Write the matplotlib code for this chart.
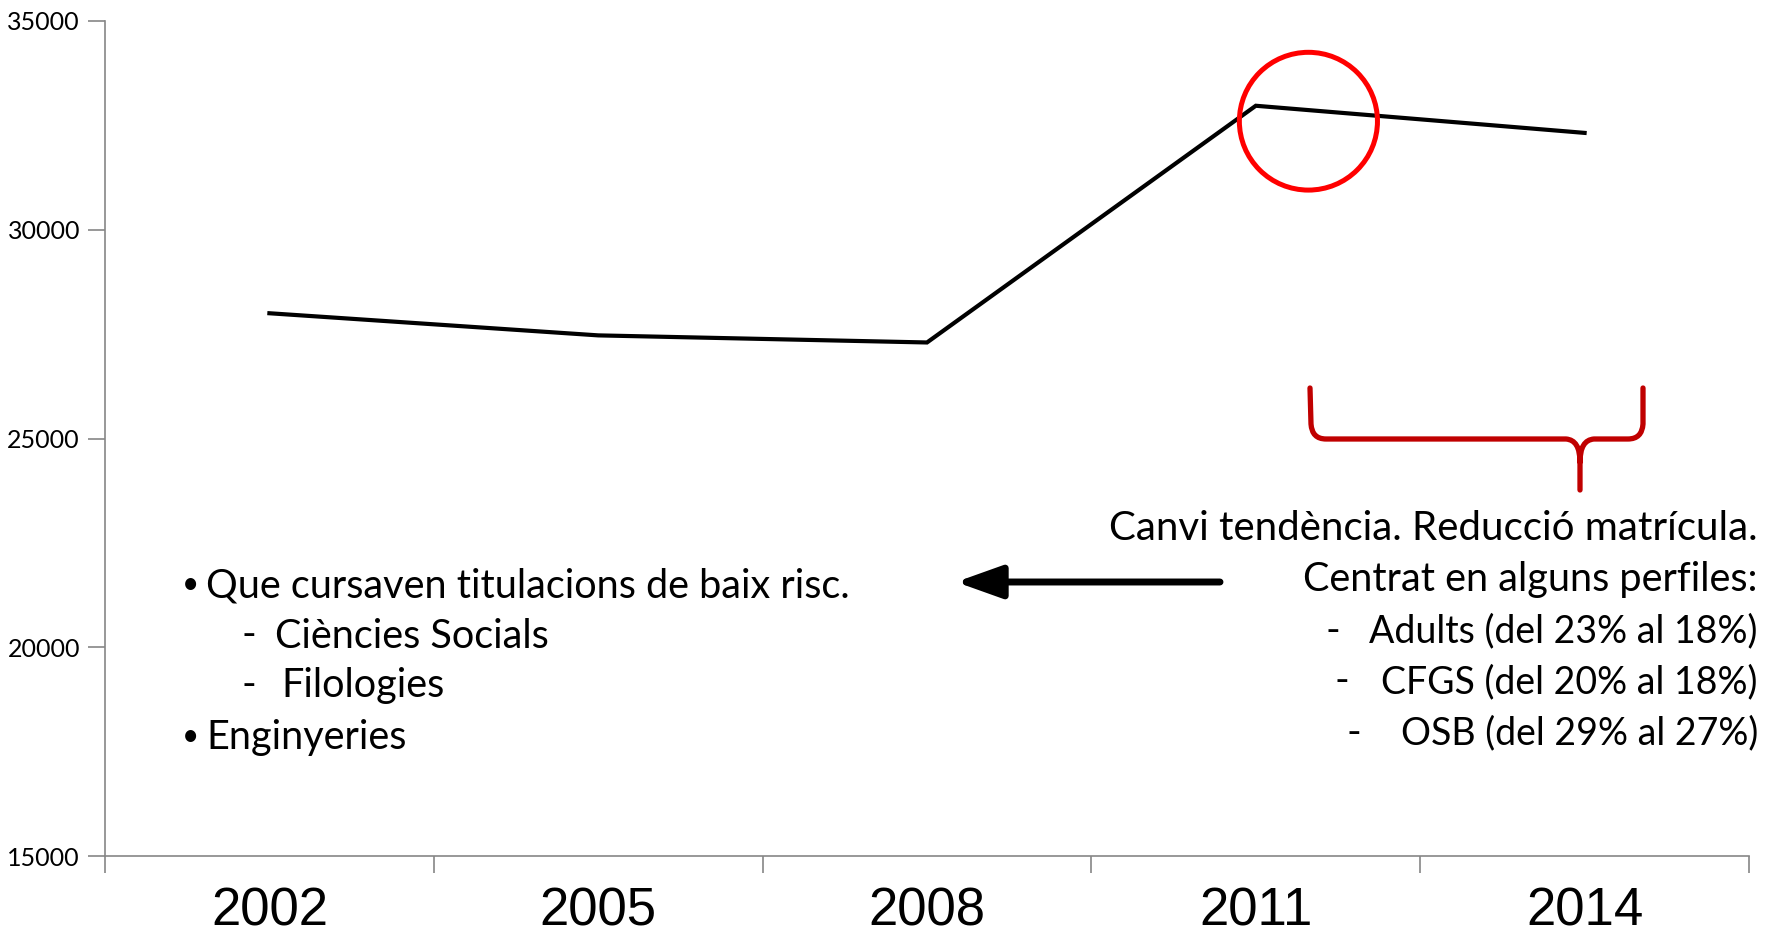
import matplotlib

matplotlib.use("Agg")
import matplotlib.pyplot as plt
from matplotlib.patches import Ellipse, PathPatch
from matplotlib.path import Path

years = ["2002", "2005", "2008", "2011", "2014"]
enrolment = [28000, 27470, 27300, 32970, 32320]
y_ticks = [15000, 20000, 25000, 30000, 35000]

left_lines = ["Que cursaven titulacions de baix risc.", "Ciències Socials", "Filologies", "Enginyeries"]
right_lines = ["Canvi tendència. Reducció matrícula.", "Centrat en alguns perfiles:",
               "Adults (del 23% al 18%)", "CFGS (del 20% al 18%)", "OSB (del 29% al 27%)"]

W, H = 1774, 943
TEXT_FONT = ["Lato", "DejaVu Sans"]
YEAR_FONT = ["Liberation Sans Narrow", "Liberation Sans"]
AXIS_GREY = "#868686"


def fx(px):
    return px / W


def fy(py):
    return 1 - py / H


fig = plt.figure(figsize=(W / 100, H / 100), dpi=100)
ax = fig.add_axes([fx(105), fy(856), fx(1749) - fx(105), fy(21) - fy(856)])

x = list(range(len(years)))
ax.plot(x, enrolment, color="black", linewidth=3.0, solid_joinstyle="miter", zorder=3)

ax.set_xlim(-0.5, len(years) - 0.5)
ax.set_ylim(15000, 35000)
ax.set_yticks(y_ticks)
ax.set_yticklabels([str(v) for v in y_ticks], fontsize=18, family=TEXT_FONT)
ax.set_xticks([i - 0.5 for i in range(len(years) + 1)])
ax.set_xticklabels([])
ax.set_xticks(x, minor=True)
ax.set_xticklabels(years, minor=True, fontsize=38, family=YEAR_FONT)
ax.tick_params(axis="x", which="minor", length=0, pad=22)
ax.tick_params(axis="x", which="major", direction="out", length=12, color=AXIS_GREY, width=1.2)
ax.tick_params(axis="y", direction="out", length=12, color=AXIS_GREY, width=1.2, pad=6)
for spine in ["top", "right"]:
    ax.spines[spine].set_visible(False)
for spine in ["left", "bottom"]:
    ax.spines[spine].set_color(AXIS_GREY)
    ax.spines[spine].set_linewidth(1.2)

# red circle around the 2011 peak
ax.add_patch(Ellipse((3.16, 32600), width=0.42, height=3300, fill=False,
                     edgecolor="#FF0000", linewidth=3.6, zorder=4))

# brace under the 2011-2014 stretch
brace_verts = [
    (1310, 388), (1311, 424), (1312, 439), (1326, 439),
    (1566, 439), (1580, 440), (1580, 462),
    (1580, 490),
    (1580, 462), (1580, 440), (1594, 439),
    (1628, 439), (1642, 439), (1643, 424), (1643, 388),
]
brace_codes = [
    Path.MOVETO, Path.LINETO, Path.CURVE3, Path.CURVE3,
    Path.LINETO, Path.CURVE3, Path.CURVE3,
    Path.LINETO,
    Path.MOVETO, Path.CURVE3, Path.CURVE3,
    Path.LINETO, Path.CURVE3, Path.CURVE3, Path.LINETO,
]
brace = Path([(fx(a), fy(b)) for a, b in brace_verts], brace_codes)
fig.add_artist(PathPatch(brace, transform=fig.transFigure, fill=False,
                         edgecolor="#C00000", linewidth=3.8, capstyle="round", joinstyle="round"))

# arrow pointing left
fig.add_artist(plt.Annotation("", xy=(fx(956), fy(582)), xytext=(fx(1220), fy(582)),
                              xycoords="figure fraction", textcoords="figure fraction",
                              arrowprops=dict(arrowstyle="-|>,head_length=1.4,head_width=0.5",
                                              color="black", linewidth=5.0, mutation_scale=20,
                                              shrinkA=0, shrinkB=0)))

# left text block
fs = 28.5
fig.text(fx(182), fy(584), "•", fontsize=fs * 0.75, family=TEXT_FONT, va="center", ha="left")
fig.text(fx(206), fy(586), left_lines[0], fontsize=fs, family=TEXT_FONT, va="center", ha="left")
fig.text(fx(241), fy(636), "-", fontsize=fs, family=TEXT_FONT, va="center", ha="left")
fig.text(fx(275), fy(636), left_lines[1], fontsize=fs, family=TEXT_FONT, va="center", ha="left")
fig.text(fx(241), fy(686), "-", fontsize=fs, family=TEXT_FONT, va="center", ha="left")
fig.text(fx(281), fy(686), left_lines[2], fontsize=fs, family=TEXT_FONT, va="center", ha="left")
fig.text(fx(182), fy(736), "•", fontsize=fs * 0.75, family=TEXT_FONT, va="center", ha="left")
fig.text(fx(206), fy(738), left_lines[3], fontsize=fs, family=TEXT_FONT, va="center", ha="left")

# right text block
right_y = [528, 580, 631, 682, 733]
right_fs = [29, 28.5, 27, 27, 27]
for line, yy, size in zip(right_lines, right_y, right_fs):
    fig.text(fx(1758), fy(yy), line, fontsize=size, family=TEXT_FONT, va="center", ha="right")
for dash_x, yy in zip([1326, 1335, 1347], right_y[2:]):
    fig.text(fx(dash_x), fy(yy), "-", fontsize=fs, family=TEXT_FONT, va="center", ha="left")

fig.savefig("out.png", dpi=100)
